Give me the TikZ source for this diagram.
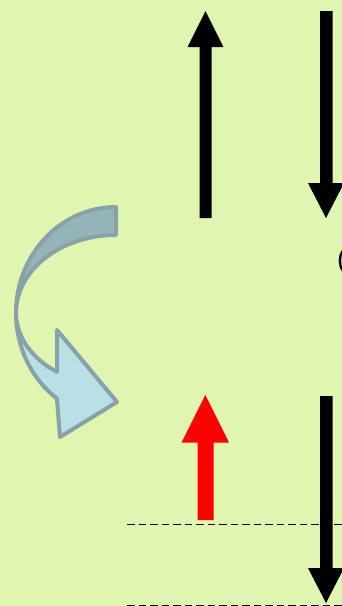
\documentclass[tikz,border=0pt]{standalone}
\usepackage{fontspec}
\setmainfont{Liberation Sans}
\definecolor{bg}{HTML}{E0F5B0}
\definecolor{arrowedge}{HTML}{87A2A8}
\definecolor{arrowback}{HTML}{95B4B7}
\definecolor{arrowfront}{HTML}{B9E1E5}
\tikzset{
  blockarrow/.style={fill=black},
  redarrow/.style={fill=red},
  curvepart/.style={draw=arrowedge, line width=4pt, line join=round},
  dashline/.style={draw=black, line width=1.8pt, dash pattern=on 7.5pt off 4pt}
}
\begin{document}
\begin{tikzpicture}[x=1pt,y=-1pt]
\useasboundingbox (0,0) rectangle (342,606);
\clip (0,0) rectangle (342,606);
\fill[bg] (0,0) rectangle (342,606);

% dashed levels
\draw[dashline] (127,524.5) -- (342,524.5);
\draw[dashline] (127,605.5) -- (342,605.5);

% upper pair of spins
\fill[blockarrow] (199.5,218) -- (199.5,47) -- (187.5,47) -- (205.5,11)
  -- (223.5,47) -- (211.5,47) -- (211.5,218) -- cycle;
\fill[blockarrow] (320,11) -- (332.5,11) -- (332.5,183) -- (344,183)
  -- (326,218) -- (308,183) -- (320,183) -- cycle;

% lower pair of spins
\fill[redarrow] (197.5,520) -- (197.5,442.5) -- (181.5,442.5) -- (205.3,395)
  -- (229,442.5) -- (213.5,442.5) -- (213.5,520) -- cycle;
\fill[blockarrow] (320,396) -- (332.5,396) -- (332.5,568) -- (344,568)
  -- (326,603) -- (308,568) -- (320,568) -- cycle;

% curved transition arrow: front face with head
\filldraw[curvepart, fill=arrowfront] (16,313)
  arc[start angle=180, end angle=126.2, x radius=100, y radius=106]
  -- (60,437) -- (117,402) -- (57,330) -- (57,372)
  arc[start angle=126.2, end angle=180, x radius=100, y radius=73]
  -- cycle;
% curved transition arrow: back face
\filldraw[curvepart, fill=arrowback] (116,207)
  arc[start angle=270, end angle=180, x radius=100, y radius=106]
  arc[start angle=180, end angle=270, x radius=100, y radius=78]
  -- cycle;

% label at the right edge
\node[anchor=base west, inner sep=0pt, font=\fontsize{28}{28}\selectfont] (paren) at (337,268) {(};
\end{tikzpicture}
\end{document}
